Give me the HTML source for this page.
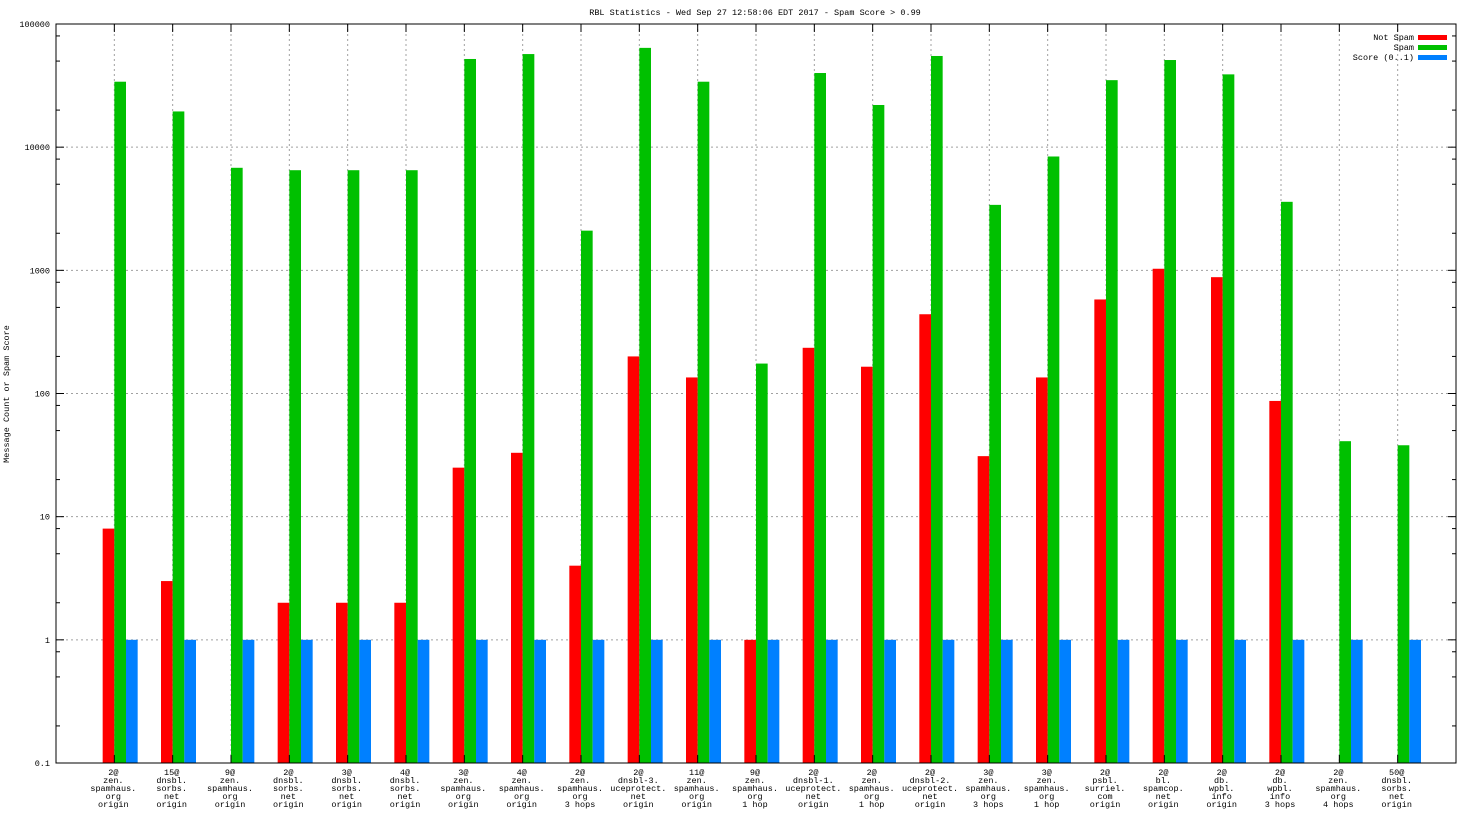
<!DOCTYPE html>
<html><head><meta charset="utf-8"><style>
body{margin:0;background:#fff;}
svg text{font-family:"Liberation Mono",monospace;font-size:8.5px;fill:#000;}
</style></head><body>
<svg id="chart" width="1472" height="828" xmlns="http://www.w3.org/2000/svg">
<text x="755" y="15" text-anchor="middle">RBL Statistics - Wed Sep 27 12:58:06 EDT 2017 - Spam Score &gt; 0.99</text>
<text transform="translate(9,394) rotate(-90)" text-anchor="middle">Message Count or Spam Score</text>
<g id="grid"></g><g id="bars"></g><g id="axes"></g><g id="legend"></g>
</svg>
<script>
const categories=[
["2@","zen.","spamhaus.","org","origin"],["15@","dnsbl.","sorbs.","net","origin"],["9@","zen.","spamhaus.","org","origin"],
["2@","dnsbl.","sorbs.","net","origin"],["3@","dnsbl.","sorbs.","net","origin"],["4@","dnsbl.","sorbs.","net","origin"],
["3@","zen.","spamhaus.","org","origin"],["4@","zen.","spamhaus.","org","origin"],["2@","zen.","spamhaus.","org","3 hops"],
["2@","dnsbl-3.","uceprotect.","net","origin"],["11@","zen.","spamhaus.","org","origin"],["9@","zen.","spamhaus.","org","1 hop"],
["2@","dnsbl-1.","uceprotect.","net","origin"],["2@","zen.","spamhaus.","org","1 hop"],["2@","dnsbl-2.","uceprotect.","net","origin"],
["3@","zen.","spamhaus.","org","3 hops"],["3@","zen.","spamhaus.","org","1 hop"],["2@","psbl.","surriel.","com","origin"],
["2@","bl.","spamcop.","net","origin"],["2@","db.","wpbl.","info","origin"],["2@","db.","wpbl.","info","3 hops"],
["2@","zen.","spamhaus.","org","4 hops"],["50@","dnsbl.","sorbs.","net","origin"]];
const notSpam=[8,3,null,2,2,2,25,33,4,200,135,1,235,165,440,31,135,580,1030,880,87,null,null];
const spam=[34000,19500,6800,6500,6500,6500,52000,57000,2100,64000,34000,175,40000,22000,55000,3400,8400,35000,51000,39000,3600,41,38];
const score=[1,1,1,1,1,1,1,1,1,1,1,1,1,1,1,1,1,1,1,1,1,1,1];
const yTicks=[0.1,1,10,100,1000,10000,100000];
const yTickLabels=["0.1","1","10","100","1000","10000","100000"];
const seriesNames=["Not Spam","Spam","Score (0..1)"];
const seriesColors=["#ff0000","#00c000","#0080ff"];

const L=56,R=1456,T=24,B=763,NS="http://www.w3.org/2000/svg";
const xs=i=>L+(R-L)*(i+1)/24;
const ys=v=>B-(Math.log10(v)+1)/6*(B-T);
function mk(tag,attrs,parent){const e=document.createElementNS(NS,tag);for(const k in attrs)e.setAttribute(k,attrs[k]);parent.appendChild(e);return e;}
const grid=document.getElementById('grid'),bars=document.getElementById('bars'),axes=document.getElementById('axes'),leg=document.getElementById('legend');
const bw=(R-L)/24*0.2;
yTicks.forEach((t,i)=>{
  const y=ys(t);
  if(i>0&&i<yTicks.length-1){const g=mk('line',{x1:L,x2:R,y1:y,y2:y,stroke:'#a0a0a0','stroke-dasharray':'2,3'},grid);
  
  }
  const tx=mk('text',{x:L-6,y:y+3,'text-anchor':'end'},axes);tx.textContent=yTickLabels[i];
  
  
  mk('line',{x1:L,x2:L+8,y1:y,y2:y,stroke:'#000'},axes);mk('line',{x1:R,x2:R-8,y1:y,y2:y,stroke:'#000'},axes);
  if(i<yTicks.length-1){[2,5,8].forEach(m=>{const yy=ys(t*m);mk('line',{x1:L,x2:L+4,y1:yy,y2:yy,stroke:'#000'},axes);mk('line',{x1:R,x2:R-4,y1:yy,y2:yy,stroke:'#000'},axes);});}
});
categories.forEach((c,i)=>{
  const x=xs(i);
  const g=mk('line',{x1:x,x2:x,y1:T,y2:B,stroke:'#a0a0a0','stroke-dasharray':'2,3'},grid);
  
  
  mk('line',{x1:x,x2:x,y1:B,y2:B-8,stroke:'#000'},axes);mk('line',{x1:x,x2:x,y1:T,y2:T+8,stroke:'#000'},axes);
  const tx=mk('text',{x:x-1,'text-anchor':'middle'},axes);
  
  
  c.forEach((s,j)=>{const ts=mk('tspan',{x:x-1,y:775+j*8},tx);ts.textContent=s;});
  [notSpam,spam,score].forEach((arr,k)=>{
    const v=arr[i];if(v==null)return;
    const y=ys(v);
    const r=mk('rect',{x:x-bw+k*bw,y:y,width:bw,height:B-y,fill:seriesColors[k]},bars);
    
    
  });
});
mk('rect',{x:L,y:T,width:R-L,height:B-T,fill:'none',stroke:'#000','stroke-width':1},axes);
seriesNames.forEach((n,k)=>{
  const y=37+k*10;
  const t=mk('text',{x:1414,y:y+3,'text-anchor':'end'},leg);t.textContent=n;
  
  
  mk('rect',{x:1418,y:y-2,width:29,height:5,fill:seriesColors[k]},leg);
});
</script>
</body></html>
